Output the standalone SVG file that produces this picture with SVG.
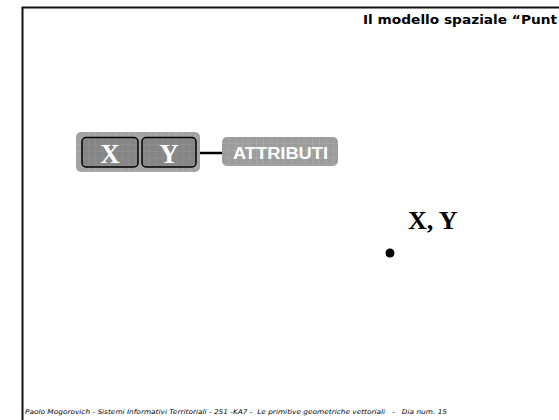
<svg xmlns="http://www.w3.org/2000/svg" width="559" height="420" viewBox="0 0 559 420">
  <defs>
    <pattern id="gridLight" width="6.7" height="6.7" patternUnits="userSpaceOnUse" x="76" y="132">
      <rect width="6.7" height="6.7" fill="#a2a2a2"/>
      <path d="M6.7 0V6.7M0 6.7H6.7" stroke="#b9b9b9" stroke-width="0.8" fill="none"/>
    </pattern>
    <pattern id="gridDark" width="6.7" height="6.7" patternUnits="userSpaceOnUse" x="76" y="132">
      <rect width="6.7" height="6.7" fill="#858585"/>
      <path d="M6.7 0V6.7M0 6.7H6.7" stroke="#9a9a9a" stroke-width="0.8" fill="none"/>
    </pattern>
    <pattern id="gridAttr" width="7" height="7" patternUnits="userSpaceOnUse" x="222" y="137">
      <rect width="7" height="7" fill="#9c9c9c"/>
      <path d="M7 0V7M0 7H7" stroke="#b4b4b4" stroke-width="0.8" fill="none"/>
    </pattern>
  </defs>
  <style>
    .frame { stroke: #111; stroke-width: 2; fill: none; }
    .cell { fill: url(#gridDark); stroke: #000; stroke-width: 1.5; }
    .coord { font-family: "Liberation Serif", "Times New Roman", serif; font-weight: bold; font-size: 27px; fill: #fff; text-anchor: middle; }
    .attr { font-family: "Liberation Sans", Arial, sans-serif; font-weight: bold; font-size: 16px; fill: #fff; }
    .title { font-family: "Comic Sans MS", "DejaVu Sans", sans-serif; font-weight: bold; font-size: 13px; fill: #000; }
    .footer { font-family: "Comic Sans MS", "DejaVu Sans", sans-serif; font-style: italic; font-size: 6.5px; fill: #000; white-space: pre; }
    .xy { font-family: "Liberation Serif", "Times New Roman", serif; font-weight: bold; font-size: 26px; fill: #000; }
  </style>
  <rect width="559" height="420" fill="#fff"/>
  <path class="frame" d="M22.5 420V7.5H559"/>
  <text class="title" x="363" y="24" textLength="194" lengthAdjust="spacingAndGlyphs">Il modello spaziale “Punt</text>

  <g id="connectors">
    <line x1="199" y1="153" x2="222" y2="153" stroke="#000" stroke-width="2.5"/>
  </g>

  <g id="node-coordinates">
    <rect x="76" y="132" width="124" height="40" rx="5" fill="url(#gridLight)"/>
    <rect class="cell" x="82" y="137.5" width="56" height="29.5" rx="4"/>
    <rect class="cell" x="142" y="137.5" width="54" height="29.5" rx="4"/>
    <text class="coord" x="110" y="162.5">X</text>
    <text class="coord" x="169" y="162.5">Y</text>
  </g>

  <g id="node-attributi">
    <rect x="222" y="137" width="116" height="29" rx="5" fill="url(#gridAttr)"/>
    <text class="attr" x="233" y="158.5" textLength="95" lengthAdjust="spacingAndGlyphs">ATTRIBUTI</text>
  </g>

  <g id="node-point">
    <circle cx="390" cy="253" r="4.5" fill="#000"/>
    <text class="xy" x="408" y="229">X, Y</text>
  </g>

  <text class="footer" x="25" y="414" xml:space="preserve" textLength="422" lengthAdjust="spacingAndGlyphs">Paolo Mogorovich - Sistemi Informativi Territoriali - 251 -KA7 -  Le primitive geometriche vettoriali   -   Dia num. 15</text>
</svg>
